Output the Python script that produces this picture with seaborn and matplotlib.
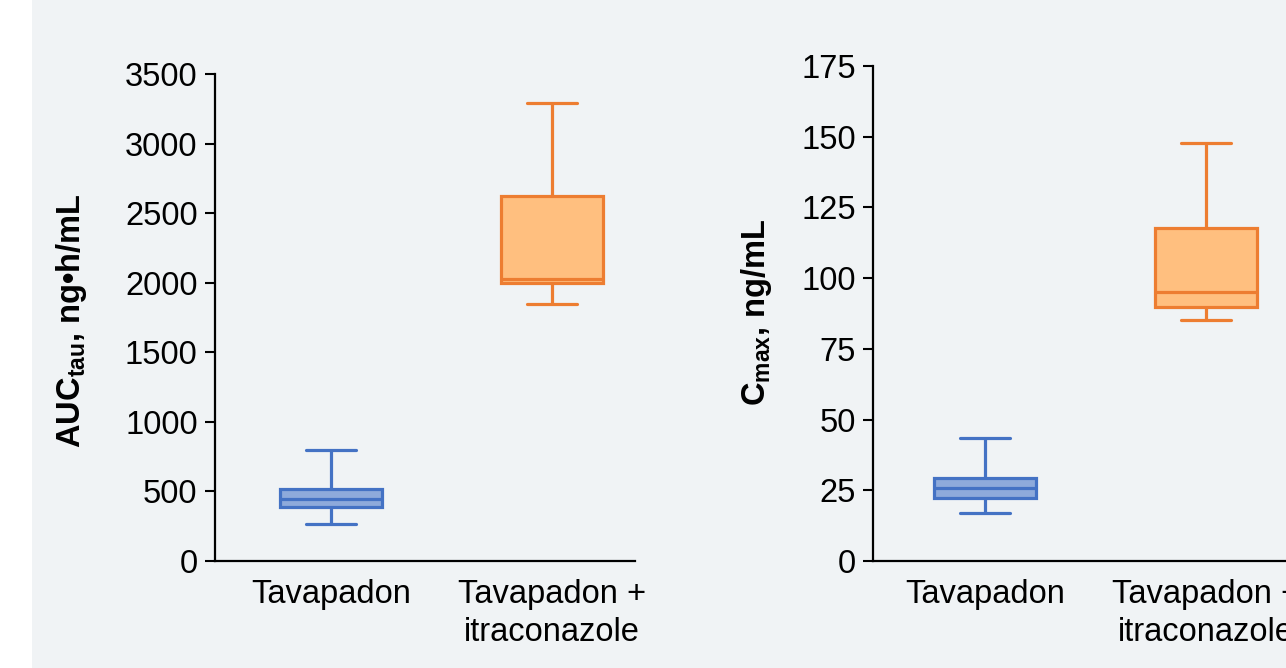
import numpy as np
import pandas as pd
import seaborn as sns
import matplotlib.pyplot as plt
from matplotlib.patches import Rectangle

# five-number summaries: min, Q1, median, Q3, max
groups = ["Tavapadon", "Tavapadon +\nitraconazole"]
auc_tav = [265, 390, 445, 515, 795]
auc_itra = [1850, 2000, 2030, 2620, 3290]
cmax_tav = [17.1, 22.4, 25.9, 29.5, 43.4]
cmax_itra = [85.2, 89.8, 95.0, 117.7, 147.9]

auc_ticks = [0, 500, 1000, 1500, 2000, 2500, 3000, 3500]
cmax_ticks = [0, 25, 50, 75, 100, 125, 150, 175]

fills = ["#8eaadb", "#ffbf7f"]
edges = ["#4472c4", "#ed7d31"]
bg = "#f0f3f5"

sns.set_style("ticks")
plt.rcParams["font.family"] = ["Liberation Sans", "DejaVu Sans"]
plt.rcParams["mathtext.fontset"] = "custom"
plt.rcParams["mathtext.rm"] = "Liberation Sans"
plt.rcParams["mathtext.bf"] = "Liberation Sans:bold"
plt.rcParams["text.color"] = "black"
plt.rcParams["axes.labelcolor"] = "black"
plt.rcParams["xtick.color"] = "black"
plt.rcParams["ytick.color"] = "black"

fig = plt.figure(figsize=(12.86, 6.68), dpi=100, facecolor="white")
fig.patches.append(Rectangle((32 / 1286, 0), 1, 1, transform=fig.transFigure,
                             facecolor=bg, edgecolor="none", zorder=-10))

ax1 = fig.add_axes([215 / 1286, 1 - 561 / 668, 420 / 1286, 487 / 668])
ax2 = fig.add_axes([873 / 1286, 1 - 561 / 668, 413 / 1286, 495 / 668])


def draw(ax, a, b, ticks, ylabel, xlim):
    df = pd.DataFrame({
        "group": [groups[0]] * len(a) + [groups[1]] * len(b),
        "value": a + b,
    })
    sns.boxplot(data=df, x="group", y="value", ax=ax, whis=(0, 100),
                width=0.46, fliersize=0, linewidth=2.3)
    for patch, fc, ec in zip(ax.patches, fills, edges):
        patch.set_facecolor(fc)
        patch.set_edgecolor(ec)
    lines = ax.lines
    per = len(lines) // 2
    for i, ec in enumerate(edges):
        for ln in lines[i * per:(i + 1) * per]:
            ln.set_color(ec)
            ln.set_linewidth(2.3)
    ax.set_facecolor("none")
    ax.set_ylim(ticks[0], ticks[-1])
    ax.set_yticks(ticks)
    ax.set_xlim(*xlim)
    ax.set_xlabel("")
    ax.set_ylabel(ylabel, fontsize=23.5, fontweight="bold")
    ax.tick_params(axis="y", labelsize=23.5, length=7, width=1.5, pad=5.5)
    ax.tick_params(axis="x", labelsize=23.5, length=0, pad=13)
    for lbl in ax.get_xticklabels():
        lbl.set_linespacing(1.3)
    for s in ["top", "right"]:
        ax.spines[s].set_visible(False)
    for s in ["left", "bottom"]:
        ax.spines[s].set_linewidth(1.6)
        ax.spines[s].set_color("black")


draw(ax1, auc_tav, auc_itra, auc_ticks,
     r"AUC$_{\mathbf{tau}}$, ng•h/mL", (-0.525, 1.376))
draw(ax2, cmax_tav, cmax_itra, cmax_ticks,
     r"C$_{\mathbf{max}}$, ng/mL", (-0.507, 1.362))

ax1.yaxis.set_label_coords(-0.30, 0.493)
ax2.yaxis.set_label_coords(-0.24, 0.503)

fig.savefig("out.png", dpi=100, facecolor="white")
